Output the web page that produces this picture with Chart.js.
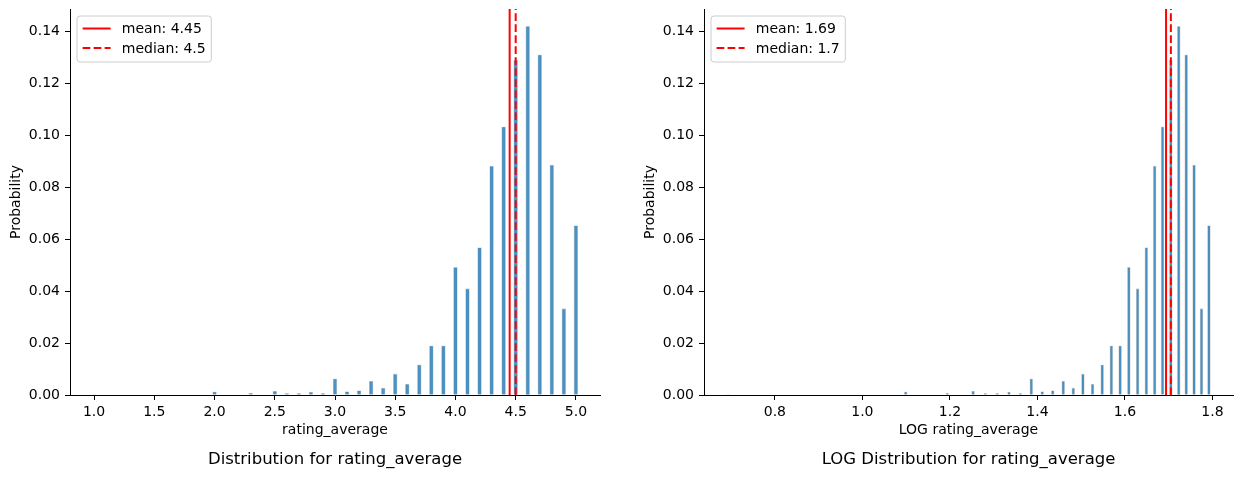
<!DOCTYPE html>
<html><head><meta charset="utf-8">
<script src="https://cdn.jsdelivr.net/npm/chart.js@4/dist/chart.umd.min.js"></script>
<style>
html,body{margin:0;padding:0;background:#fff;}
#wrap{position:relative;width:1242px;height:477px;overflow:hidden;background:#fff;}
#c1{position:absolute;left:0;top:0;}
#c2{position:absolute;left:620px;top:0;}
</style></head><body>
<div id="wrap"><canvas id="c1" width="620" height="477"></canvas><canvas id="c2" width="622" height="477"></canvas></div>
<script>
// ---- data ----
const ratings = [1.0, 2.0, 2.3, 2.5, 2.6, 2.7, 2.8, 2.9, 3.0, 3.1, 3.2, 3.3, 3.4, 3.5, 3.6, 3.7, 3.8, 3.9, 4.0, 4.1, 4.2, 4.3, 4.4, 4.5, 4.6, 4.7, 4.8, 4.9, 5.0];
const logRatings = [0.693, 1.099, 1.194, 1.253, 1.281, 1.308, 1.335, 1.361, 1.386, 1.411, 1.435, 1.459, 1.482, 1.504, 1.526, 1.548, 1.569, 1.589, 1.609, 1.629, 1.649, 1.668, 1.686, 1.705, 1.723, 1.740, 1.758, 1.775, 1.792];
const probabilities = [0.0002, 0.0012, 0.0007, 0.0015, 0.0006, 0.0006, 0.0011, 0.0006, 0.0062, 0.0013, 0.0017, 0.0054, 0.0027, 0.0081, 0.0042, 0.0116, 0.0189, 0.0189, 0.0491, 0.0409, 0.0567, 0.0881, 0.1032, 0.1289, 0.1419, 0.1309, 0.0885, 0.0332, 0.0652];
const logProbabilities = [0.0002, 0.0012, 0.0007, 0.0015, 0.0006, 0.0006, 0.0011, 0.0006, 0.0062, 0.0013, 0.0017, 0.0054, 0.0027, 0.0081, 0.0042, 0.0116, 0.0189, 0.0189, 0.0491, 0.0409, 0.0567, 0.0881, 0.1032, 0.1289, 0.1419, 0.1309, 0.0885, 0.0332, 0.0652];
const meanRating = 4.45, medianRating = 4.5;
const meanLog = 1.694, medianLog = 1.705;
const meanLabel = 'mean: 4.45', medianLabel = 'median: 4.5';
const meanLogLabel = 'mean: 1.69', medianLogLabel = 'median: 1.7';
const xTicksLeft = [1.0, 1.5, 2.0, 2.5, 3.0, 3.5, 4.0, 4.5, 5.0];
const xTicksRight = [0.8, 1.0, 1.2, 1.4, 1.6, 1.8];
const yTicks = [0, 0.02, 0.04, 0.06, 0.08, 0.10, 0.12, 0.14];
const yMax = 0.1485;

Chart.defaults.font.family = '"DejaVu Sans", sans-serif';
Chart.defaults.color = '#000';

const boxLegend = {
  id: 'boxLegend',
  afterDatasetsDraw(chart) {
    const ctx = chart.ctx, ca = chart.chartArea;
    const items = chart.data.datasets.filter(d => d.type === 'line');
    const fs = 14;
    ctx.save();
    ctx.font = fs + 'px "DejaVu Sans"';
    const textW = Math.max(...items.map(d => ctx.measureText(d.label).width));
    const x0 = ca.left + 7, y0 = ca.top + 7;
    const w = 5.6 + 28 + 11.2 + textW + 5.6, h = 46, r = 3;
    ctx.beginPath();
    ctx.moveTo(x0 + r, y0); ctx.lineTo(x0 + w - r, y0); ctx.arcTo(x0 + w, y0, x0 + w, y0 + r, r);
    ctx.lineTo(x0 + w, y0 + h - r); ctx.arcTo(x0 + w, y0 + h, x0 + w - r, y0 + h, r);
    ctx.lineTo(x0 + r, y0 + h); ctx.arcTo(x0, y0 + h, x0, y0 + h - r, r);
    ctx.lineTo(x0, y0 + r); ctx.arcTo(x0, y0, x0 + r, y0, r); ctx.closePath();
    ctx.fillStyle = 'rgba(255,255,255,0.8)'; ctx.fill();
    ctx.strokeStyle = '#cccccc'; ctx.lineWidth = 1; ctx.stroke();
    items.forEach((d, i) => {
      const cy = y0 + 12.5 + i * 19.5;
      ctx.strokeStyle = d.borderColor; ctx.lineWidth = d.borderWidth;
      ctx.setLineDash(d.borderDash || []);
      ctx.beginPath(); ctx.moveTo(x0 + 5.6, cy); ctx.lineTo(x0 + 5.6 + 28, cy); ctx.stroke();
      ctx.setLineDash([]);
      ctx.fillStyle = '#000'; ctx.textBaseline = 'middle'; ctx.textAlign = 'left';
      ctx.fillText(d.label, x0 + 5.6 + 28 + 11.2, cy + 1);
    });
    ctx.restore();
  }
};

// chart title centred under the plot area (like a matplotlib axes title)
const axesTitle = {
  id: 'axesTitle',
  afterDraw(chart, args, opts) {
    const ctx = chart.ctx, ca = chart.chartArea;
    ctx.save();
    ctx.font = '16.5px "DejaVu Sans"';
    ctx.fillStyle = '#000'; ctx.textAlign = 'center'; ctx.textBaseline = 'middle';
    ctx.fillText(opts.text, (ca.left + ca.right) / 2, ca.bottom + 65);
    ctx.restore();
  }
};

function makeChart(id, xs, ys, xTicks, mean, median, mLabel, mdLabel, cfg) {
  const bars = xs.map((x, i) => ({ x: x, y: ys[i] }));
  return new Chart(document.getElementById(id), {
    type: 'bar',
    data: {
      datasets: [
        { type: 'bar', label: 'hist', data: bars, order: 2,
          backgroundColor: 'rgba(31,119,180,0.8)', borderColor: 'rgba(215,215,215,1)',
          borderWidth: { left: 0.8, right: 0.8, top: 0.8, bottom: 0 }, borderSkipped: false,
          barThickness: cfg.barThickness, grouped: false },
        { type: 'line', label: mLabel, data: [{ x: mean, y: 0 }, { x: mean, y: yMax }], order: 1,
          borderColor: '#ff0000', borderWidth: 2, pointRadius: 0, fill: false, clip: false },
        { type: 'line', label: mdLabel, data: [{ x: median, y: 0 }, { x: median, y: yMax }], order: 0,
          borderColor: '#ff0000', borderWidth: 2, borderDash: [7.7, 3.3], pointRadius: 0, fill: false, clip: false }
      ]
    },
    options: {
      responsive: false, animation: false, devicePixelRatio: 1,
      layout: { padding: cfg.padding },
      plugins: {
        legend: { display: false }, tooltip: { enabled: false }, title: { display: false },
        axesTitle: { text: cfg.title }
      },
      scales: {
        x: { type: 'linear', min: cfg.xMin, max: cfg.xMax, offset: false,
          border: { display: true, color: '#000', width: 1 },
          grid: { display: true, drawOnChartArea: false, drawTicks: true, tickLength: 5, tickColor: '#000', offset: false },
          afterBuildTicks: s => { s.ticks = xTicks.map(v => ({ value: v })); },
          ticks: { autoSkip: false, maxRotation: 0, color: '#000', font: { size: 14 }, padding: 4,
            callback: v => Number(v).toFixed(1) },
          title: { display: true, text: cfg.xTitle, color: '#000', font: { size: 14 }, padding: { top: 0, bottom: 37.8 } },
          afterFit: s => { s.height = 82; s.paddingLeft = 0; s.paddingRight = 0; } },
        y: { type: 'linear', min: 0, max: yMax,
          border: { display: true, color: '#000', width: 1 },
          grid: { display: true, drawOnChartArea: false, drawTicks: true, tickLength: 5, tickColor: '#000' },
          afterBuildTicks: s => { s.ticks = yTicks.map(v => ({ value: v })); },
          ticks: { color: '#000', font: { size: 14 }, padding: 5, callback: v => Number(v).toFixed(2) },
          title: { display: true, text: 'Probability', color: '#000', font: { size: 14 }, padding: { top: cfg.yTitlePad, bottom: 0 } },
          afterFit: s => { s.width = cfg.yWidth; s.paddingTop = 0; s.paddingBottom = 0; } }
      }
    },
    plugins: [boxLegend, axesTitle]
  });
}

makeChart('c1', ratings, probabilities, xTicksLeft, meanRating, medianRating, meanLabel, medianLabel,
  { barThickness: 4, padding: { left: 0, right: 20, top: 9, bottom: 0 }, title: 'Distribution for rating_average',
    xMin: 0.8, xMax: 5.2, xTitle: 'rating_average', yWidth: 70, yTitlePad: 7.6 });
makeChart('c2', logRatings, logProbabilities, xTicksRight, meanLog, medianLog, meanLogLabel, medianLogLabel,
  { barThickness: 3, padding: { left: 0, right: 9, top: 9, bottom: 0 }, title: 'LOG Distribution for rating_average',
    xMin: 0.638, xMax: 1.847, xTitle: 'LOG rating_average', yWidth: 84, yTitlePad: 21.6 });
</script>
</body></html>
